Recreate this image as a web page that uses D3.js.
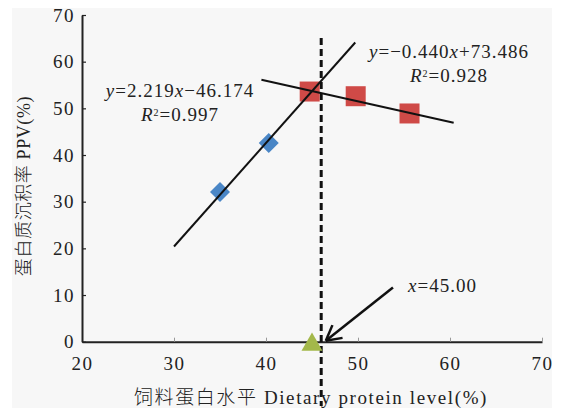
<!DOCTYPE html>
<html lang="zh">
<head>
    <meta charset="UTF-8">
    <title>蛋白质沉积率 PPV</title>
    <style>
        body { margin: 0; padding: 0; background: #fff; }
        svg { display: block; }
        text { font-family: "Liberation Serif", "Noto Sans CJK SC", serif; fill: #222; }
        .axis-title { font-weight: 300; }
    </style>
</head>
<body>
    <div id="chart"></div>
    <script src="https://cdnjs.cloudflare.com/ajax/libs/d3/7.8.5/d3.min.js"></script>
    <script>
        // 数据
        const xTicks = [20, 30, 40, 50, 60, 70];
        const yTicks = [0, 10, 20, 30, 40, 50, 60, 70];

        const risingX = [35, 40.3];          // 蓝色菱形
        const risingY = [32.1, 42.6];
        const fallingX = [44.75, 49.75, 55.6]; // 红色方块
        const fallingY = [53.6, 52.6, 48.9];
        const optimumX = [45.0];             // 绿色三角
        const optimumY = [0];

        // 回归线: 斜率, 截距, 起止 x
        const risingFit = [2.219, -46.174, 30, 49.7];
        const fallingFit = [-0.440, 73.486, 39.5, 60.4];
        const dashX = 46;
        const arrowFrom = [53.8, 11.6];
        const arrowTo = [46.5, 0.2];

        const W = 565, H = 411;
        const svg = d3.select("#chart").append("svg")
            .attr("width", W).attr("height", H);

        svg.append("rect")
            .attr("x", 12).attr("y", 8)
            .attr("width", 540).attr("height", 400)
            .attr("fill", "#f7f7f7");

        const x = d3.scaleLinear().domain([20, 70]).range([82, 542]);
        const y = d3.scaleLinear().domain([0, 70]).range([341.7, 15]);

        // x 轴
        const gx = svg.append("g")
            .attr("transform", `translate(0,${y(0)})`)
            .call(d3.axisBottom(x).tickValues(xTicks).tickSize(-4).tickPadding(10).tickSizeOuter(0));
        gx.select(".domain").attr("stroke", "#222").attr("stroke-width", 2);
        gx.selectAll(".tick line").attr("stroke", "#999");
        gx.selectAll(".tick text").attr("fill", "#222").style("font-size", "19px")
            .style("letter-spacing", "1.5px")
            .attr("font-family", "Liberation Serif").attr("dy", "0.95em");

        // y 轴
        const gy = svg.append("g")
            .attr("transform", `translate(${x(20)},0)`)
            .call(d3.axisLeft(y).tickValues(yTicks).tickSize(-4).tickPadding(7).tickSizeOuter(0));
        gy.select(".domain").attr("stroke", "#222").attr("stroke-width", 2);
        gy.selectAll(".tick line").attr("stroke", "#222").attr("stroke-width", 1.2);
        gy.selectAll(".tick text").attr("fill", "#222").style("font-size", "19px")
            .style("letter-spacing", "1.5px")
            .attr("font-family", "Liberation Serif");

        // 虚线
        svg.append("line")
            .attr("x1", x(dashX)).attr("x2", x(dashX))
            .attr("y1", 38).attr("y2", 406)
            .attr("stroke", "#111").attr("stroke-width", 3)
            .attr("stroke-dasharray", "7,4");

        // 回归线
        const fitLine = (fit) => {
            const [k, b, x0, x1] = fit;
            svg.append("line")
                .attr("x1", x(x0)).attr("y1", y(k * x0 + b))
                .attr("x2", x(x1)).attr("y2", y(k * x1 + b))
                .attr("stroke", "#111").attr("stroke-width", 2);
        };

        // 散点
        svg.selectAll(".diamond")
            .data(risingX)
            .enter().append("path")
            .attr("d", d3.symbol().type(d3.symbolSquare).size(200))
            .attr("transform", (d, i) => `translate(${x(d)},${y(risingY[i])}) rotate(45)`)
            .attr("fill", "#4a86c6");

        svg.selectAll(".square")
            .data(fallingX)
            .enter().append("path")
            .attr("d", d3.symbol().type(d3.symbolSquare).size(400))
            .attr("transform", (d, i) => `translate(${x(d)},${y(fallingY[i])})`)
            .attr("fill", "#cf4a47");

        svg.selectAll(".tri")
            .data(optimumX)
            .enter().append("path")
            .attr("d", d3.symbol().type(d3.symbolTriangle).size(190))
            .attr("transform", (d, i) => `translate(${x(d)},${y(optimumY[i]) + 3})`)
            .attr("fill", "#a3b84a");

        fitLine(risingFit);
        fitLine(fallingFit);

        // 箭头
        const ax0 = x(arrowFrom[0]), ay0 = y(arrowFrom[1]);
        const ax1 = x(arrowTo[0]), ay1 = y(arrowTo[1]);
        svg.append("line")
            .attr("x1", ax0).attr("y1", ay0).attr("x2", ax1).attr("y2", ay1)
            .attr("stroke", "#111").attr("stroke-width", 2.5);
        const ang = Math.atan2(ay0 - ay1, ax0 - ax1);
        [-0.5, 0.5].forEach(off => {
            svg.append("line")
                .attr("x1", ax1).attr("y1", ay1)
                .attr("x2", ax1 + 17 * Math.cos(ang + off))
                .attr("y2", ay1 + 17 * Math.sin(ang + off))
                .attr("stroke", "#111").attr("stroke-width", 2.5);
        });

        // 公式
        const eq = (tx, ty, parts, anchor) => {
            const t = svg.append("text")
                .attr("x", tx).attr("y", ty)
                .attr("text-anchor", anchor || "start")
                .style("font-size", "19px")
                .style("letter-spacing", "1px");
            parts.forEach(p => {
                const s = t.append("tspan").text(p[0]);
                if (p[1] === "i") s.style("font-style", "italic");
                if (p[1] === "sup") s.attr("baseline-shift", "super").style("font-size", "10px");
            });
            return t;
        };

        eq(180, 97, [["y", "i"], ["=2.219"], ["x", "i"], ["\u221246.174"]], "middle");
        eq(180, 121, [["R", "i"], ["2", "sup"], ["=0.997"]], "middle");
        eq(449, 58, [["y", "i"], ["=\u22120.440"], ["x", "i"], ["+73.486"]], "middle");
        eq(449, 82, [["R", "i"], ["2", "sup"], ["=0.928"]], "middle");
        eq(408, 292, [["x", "i"], ["=45.00"]]);

        // 轴标题
        svg.append("text")
            .attr("class", "axis-title")
            .attr("x", 311).attr("y", 404)
            .attr("text-anchor", "middle")
            .style("font-size", "19px")
            .style("letter-spacing", "1.6px")
            .text("饲料蛋白水平 Dietary protein level(%)");

        svg.append("text")
            .attr("class", "axis-title")
            .attr("transform", "translate(30,186) rotate(-90)")
            .attr("text-anchor", "middle")
            .style("font-size", "18px")
            .style("letter-spacing", "0.6px")
            .text("蛋白质沉积率 PPV(%)");
    </script>
</body>
</html>
